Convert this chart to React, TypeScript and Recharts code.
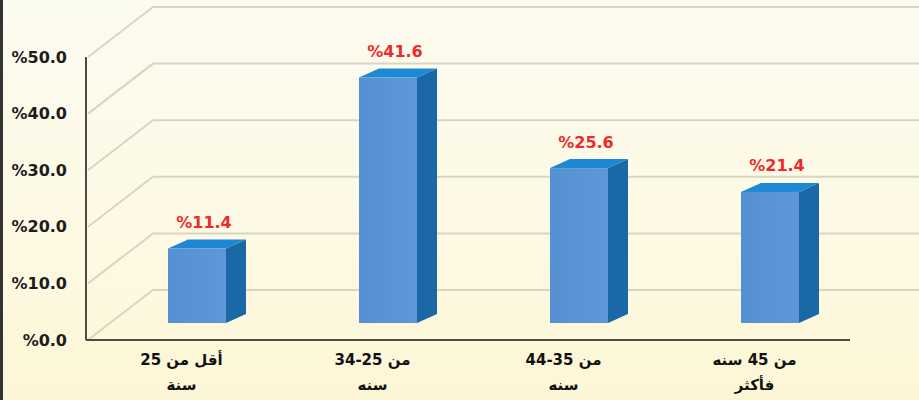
import { BarChart, Bar, XAxis, YAxis, CartesianGrid, LabelList } from "recharts";

const ageGroups = ["أقل من 25", "من 25-34", "من 35-44", "من 45 سنه"];
const ageGroupsLine2 = ["سنة", "سنه", "سنه", "فأكثر"];
const shares = [11.4, 41.6, 25.6, 21.4];
const yTicks = [0, 10, 20, 30, 40, 50];

const data = ageGroups.map((g, i) => ({ group: g, sub: ageGroupsLine2[i], share: shares[i] }));

const FONT = "'DejaVu Sans', sans-serif";

// 3D-looking block: front face, lit top, dark side
const Bar3D = (props: any) => {
  const { x, y, width, height } = props;
  if (height == null || width == null) return null;
  const fx = x + 15;
  const ft = y - 27;
  const fb = y + height - 17;
  const dx = 20;
  const dy = -9;
  return (
    <g>
      <polygon
        points={`${fx + width},${ft} ${fx + width + dx},${ft + dy} ${fx + width + dx},${fb + dy} ${fx + width},${fb}`}
        fill="#1b68a6"
      />
      <polygon
        points={`${fx},${ft} ${fx + width},${ft} ${fx + width + dx},${ft + dy} ${fx + dx},${ft + dy}`}
        fill="#1d89d4"
      />
      <rect x={fx} y={ft} width={width} height={fb - ft} fill="url(#frontFace)" />
    </g>
  );
};

const ValueLabel = (props: any) => {
  const { x, y, width, value } = props;
  return (
    <text
      x={x + width / 2 + 22}
      y={y - 53}
      textAnchor="middle"
      dominantBaseline="central"
      fill="#ee2b2b"
      fontFamily={FONT}
      fontWeight="bold"
      fontSize={16}
    >
      {`%${Number(value).toFixed(1)}`}
    </text>
  );
};

const YTick = (props: any) => {
  const { y, payload } = props;
  return (
    <text
      x={67}
      y={y}
      textAnchor="end"
      dominantBaseline="central"
      fill="#1c1c1c"
      fontFamily={FONT}
      fontWeight="bold"
      fontSize={16}
    >
      {`%${Number(payload.value).toFixed(1)}`}
    </text>
  );
};

const XTick = (props: any) => {
  const { x, payload, index } = props;
  return (
    <g>
      <text x={x} y={360} textAnchor="middle" dominantBaseline="central" direction="rtl"
        fill="#111" fontFamily={FONT} fontWeight="bold" fontSize={15}>
        {payload.value}
      </text>
      <text x={x} y={385} textAnchor="middle" dominantBaseline="central" direction="rtl"
        fill="#111" fontFamily={FONT} fontWeight="bold" fontSize={15}>
        {ageGroupsLine2[index]}
      </text>
    </g>
  );
};

// back-wall grid: short diagonal from the axis, then a long horizontal line
const gridLine = (p: any) => (
  <path
    key={p.key ?? `g-${p.index}`}
    d={`M${p.x1 + 2},${p.y1} L${p.x1 + 67},${p.y1 - 50} L${p.x2 + 80},${p.y1 - 50}`}
    stroke="#d9d5c3"
    strokeWidth={2}
    fill="none"
  />
);

export default function App() {
  return (
    <div
      style={{
        position: "absolute",
        left: 0,
        top: 0,
        width: 919,
        height: 400,
        background: "linear-gradient(180deg, #fcfbf0 0%, #fdf9e3 60%, #fdf6d6 100%)",
        borderLeft: "3px solid #333",
        boxSizing: "border-box",
        overflow: "hidden",
      }}
    >
      <div style={{ position: "absolute", left: -3, top: 0 }}>
        <BarChart width={919} height={400} data={data} margin={{ top: 57, right: 69, bottom: 10, left: 16 }}>
          <defs>
            <linearGradient id="frontFace" x1="0" y1="0" x2="1" y2="0">
              <stop offset="0%" stopColor="#5590d3" />
              <stop offset="100%" stopColor="#5f98d8" />
            </linearGradient>
          </defs>
          <CartesianGrid vertical={false} horizontal={gridLine} />
          <XAxis
            dataKey="group"
            height={50}
            axisLine={{ stroke: "#4e4b44", strokeWidth: 2 }}
            tickLine={false}
            tick={<XTick />}
            interval={0}
          />
          <YAxis
            width={70}
            domain={[0, 50]}
            ticks={yTicks}
            axisLine={{ stroke: "#4e4b44", strokeWidth: 2 }}
            tickLine={false}
            tick={<YTick />}
          />
          <Bar dataKey="share" barSize={58} shape={<Bar3D />} isAnimationActive={false}>
            <LabelList dataKey="share" content={<ValueLabel />} />
          </Bar>
        </BarChart>
      </div>
    </div>
  );
}
